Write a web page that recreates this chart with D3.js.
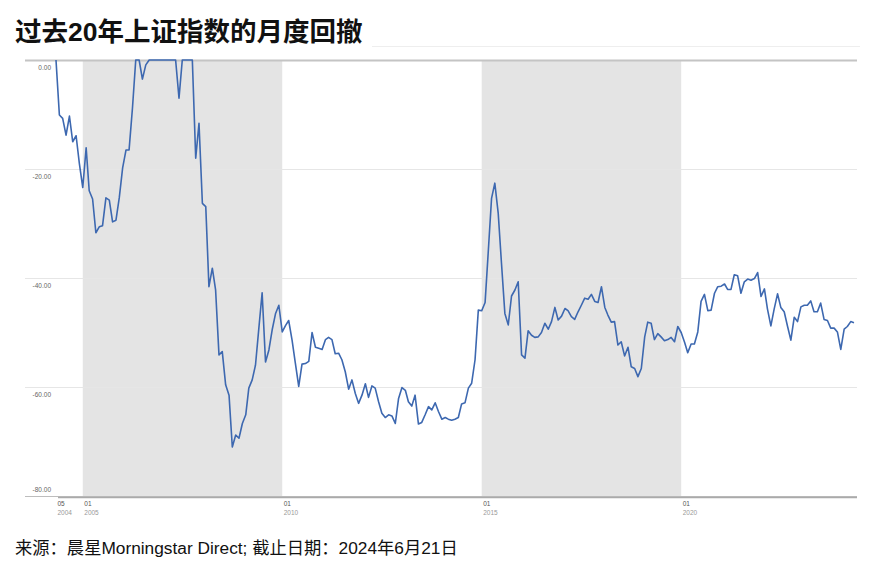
<!DOCTYPE html>
<html>
<head>
<meta charset="utf-8">
<script src="https://cdn.jsdelivr.net/npm/d3@7"></script>
<style>
  body { margin: 0; background: #fff; }
  svg text { font-family: "Liberation Sans", Arial, "Noto Sans CJK SC", sans-serif; }
</style>
</head>
<body>
<script>
// 数据：上证指数月度回撤 (%)，从 2004-05 开始，每月一个点
const startMonth = new Date(2004, 4, 1);
const drawdown = [
  0, -10.1, -10.7, -13.8, -10.3, -15, -13.9, -19, -23.4, -16.1,
  -24, -25.5, -31.7, -30.6, -30.4, -25.3, -25.7, -29.7, -29.4, -25.3,
  -19.8, -16.5, -16.5, -8.8, 0, 0, -3.5, -0.9, 0, 0,
  0, 0, 0, 0, 0, 0, 0, -7, 0, 0,
  0, 0, -18, -11.6, -26.3, -26.9, -41.6, -38.2, -42.2, -54.1,
  -53.5, -59.6, -61.5, -71, -68.8, -69.4, -66.7, -65.1, -60.2, -58.7,
  -56, -49.2, -42.7, -55.4, -53.2, -49.5, -46.5, -45, -49.9, -48.7,
  -47.8, -51.4, -55.6, -59.9, -55.8, -55.7, -55.3, -50, -52.7, -52.9,
  -53.1, -51.3, -50.9, -51.3, -53.9, -53.8, -55, -57.2, -60.4, -58.7,
  -61.2, -63, -61.5, -59.4, -61.9, -59.8, -60.2, -62.7, -64.8, -65.6,
  -65.1, -65.3, -66.7, -62.1, -60.1, -60.6, -62.7, -63.5, -61.5, -66.8,
  -66.5, -65.1, -63.6, -64.2, -62.9, -64.5, -65.9, -65.6, -65.9, -66.1,
  -65.9, -65.6, -63.1, -62.9, -60.2, -59.3, -55, -45.9, -46, -44.5,
  -35.5, -25.4, -22.6, -28.1, -37.3, -46.5, -48.6, -43.3, -42.2, -40.7,
  -54.1, -54.7, -49.7, -50.5, -50.9, -50.8, -50, -48.3, -49.4, -48,
  -45.4, -47.7, -47, -45.6, -46, -47.1, -47.6, -46.2, -45, -43.7,
  -43.9, -43, -44.3, -44.5, -41.6, -45.4, -46.8, -48.1, -48, -52.3,
  -51.7, -54.3, -52.7, -56.3, -56.6, -58.1, -56.6, -50.8, -48.1, -48.3,
  -51.3, -50.2, -50.8, -51.5, -51.3, -50.9, -51.7, -48.9, -50, -51.8,
  -53.7, -52.1, -52.1, -49.9, -44.3, -43, -46, -45.9, -42.8, -41.6,
  -41.5, -41.1, -42.1, -42.1, -39.4, -39.6, -42.8, -40.7, -40.2, -40.4,
  -40.1, -39, -43.4, -42, -45.7, -48.8, -45.7, -42.9, -45.4, -46.2,
  -48.9, -51.4, -47.2, -48, -45.3, -45, -45, -44.2, -46.2, -46.2,
  -44.6, -47.6, -47.8, -49.2, -49.2, -49.9, -53.1, -49.4, -48.9, -48,
  -48.2
];
// 阴影区间
const bands = [
  [new Date(2005, 0, 1), new Date(2010, 0, 1)],
  [new Date(2015, 0, 1), new Date(2020, 0, 1)]
];
const xTicks = [new Date(2004, 4, 1), new Date(2005, 0, 1), new Date(2010, 0, 1), new Date(2015, 0, 1), new Date(2020, 0, 1)];
const yTicks = [0, -20, -40, -60, -80];

const data = drawdown.map((v, i) => ({ date: d3.timeMonth.offset(startMonth, i), value: v }));

const W = 889, H = 574;
const svg = d3.select("body").append("svg")
    .attr("width", W)
    .attr("height", H);

// 标题
svg.append("text")
    .attr("x", 15).attr("y", 41)
    .attr("font-size", "26.5px")
    .attr("font-weight", "bold")
    .attr("fill", "#111")
    .style("font-family", "'Liberation Sans', 'Noto Sans CJK SC', sans-serif")
    .text("过去20年上证指数的月度回撤");
svg.append("line")
    .attr("x1", 372).attr("x2", 860).attr("y1", 46.5).attr("y2", 46.5)
    .attr("stroke", "#eeeeee");

// 比例尺
const x = d3.scaleTime()
    .domain([startMonth, data[data.length - 1].date])
    .range([56, 854]);
const y = d3.scaleLinear()
    .domain([-80, 0])
    .range([496, 60]);

// 阴影
svg.selectAll(".band")
    .data(bands)
    .enter().append("rect")
    .attr("class", "band")
    .attr("x", d => x(d[0]))
    .attr("width", d => x(d[1]) - x(d[0]))
    .attr("y", y(0))
    .attr("height", y(-80) - y(0))
    .attr("fill", "#e4e4e4");

// 网格线
svg.selectAll(".grid")
    .data(yTicks)
    .enter().append("line")
    .attr("class", "grid")
    .attr("x1", 25).attr("x2", 857)
    .attr("y1", d => y(d) + 0.5).attr("y2", d => y(d) + 0.5)
    .attr("stroke", d => d === 0 ? "#c4c4c4" : (d === -80 ? "#bdbdbd" : "#e6e6e6"))
    .attr("stroke-width", d => d === 0 ? 2 : 1);

// Y 轴标签
svg.selectAll(".ylab")
    .data(yTicks)
    .enter().append("text")
    .attr("class", "ylab")
    .attr("x", 51)
    .attr("y", d => d === -80 ? y(d) - 4 : y(d) + 10)
    .attr("text-anchor", "end")
    .attr("font-size", "6.5px")
    .attr("fill", "#666")
    .text(d => d3.format(".2f")(d).replace("−", "-"));

// X 轴
const xAxis = svg.append("g")
    .attr("transform", "translate(0," + 497 + ")")
    .call(d3.axisBottom(x).tickValues(xTicks).tickSize(0).tickFormat(""));
xAxis.select(".domain")
    .attr("d", "M58,0.5H857")
    .attr("stroke", "#aaa")
    .attr("stroke-width", 1.5);
xAxis.selectAll(".tick text").remove();
xAxis.selectAll(".tick").each(function(d) {
    const t = d3.select(this).append("text")
        .attr("x", 1)
        .attr("text-anchor", "start")
        .attr("font-size", "6.5px");
    t.append("tspan").attr("x", 1).attr("y", 9).attr("fill", "#555").text(d3.timeFormat("%m")(d));
    t.append("tspan").attr("x", 1).attr("y", 18).attr("fill", "#999").text(d3.timeFormat("%Y")(d));
});

// 折线
const line = d3.line()
    .x(d => x(d.date))
    .y(d => y(d.value));

svg.append("path")
    .datum(data)
    .attr("fill", "none")
    .attr("stroke", "#3d68b0")
    .attr("stroke-width", 1.6)
    .attr("stroke-linejoin", "round")
    .attr("d", line);

// 来源
svg.append("text")
    .attr("x", 15).attr("y", 554)
    .attr("font-size", "17.3px")
    .attr("fill", "#111")
    .style("font-family", "'Liberation Sans', 'Noto Sans CJK SC', sans-serif")
    .text("来源：晨星Morningstar Direct; 截止日期：2024年6月21日");
</script>
</body>
</html>
